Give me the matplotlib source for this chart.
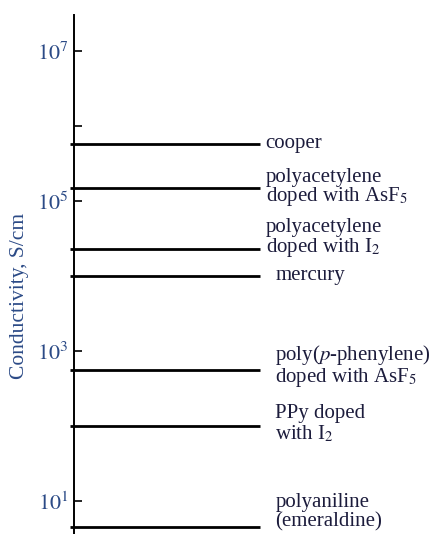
import math
import matplotlib.pyplot as plt
from matplotlib.ticker import FixedLocator, FuncFormatter

plt.rcParams['font.family'] = 'Liberation Serif'
plt.rcParams['mathtext.fontset'] = 'stix'

# conductivities in S/cm
materials = ['cooper',
             'polyacetylene\ndoped with AsF$_5$',
             'polyacetylene\ndoped with I$_2$',
             'mercury',
             'poly($p$-phenylene)\ndoped with AsF$_5$',
             'PPy doped\nwith I$_2$',
             'polyaniline\n(emeraldine)']
conductivity = [5.8e5, 1.5e5, 2.3e4, 1.0e4, 5.5e2, 1.0e2, 4.5e0]
tick_values = [1e1, 1e3, 1e5, 1e7]
minor_ticks = [1e6]

# label placement (points) and line spacing
label_dx = [4, 4, 4, 11, 11, 11, 11]
label_dy = [0, 0, 7.2, 0, 3.2, 1.2, 10.4]
label_ls = [1.0, 0.85, 0.95, 1.0, 0.95, 1.05, 1.0]

text_color = '#1c1c3c'
axis_color = '#2b4a86'

fig = plt.figure(figsize=(4.33, 5.34), dpi=100)
ax = fig.add_axes([0.171, 0.0, 0.829, 0.972])
ax.set_yscale('log')
ax.set_ylim(10**0.56, 10**7.48)
ax.set_xlim(0, 1)

for name, val, dx, dy, ls in zip(materials, conductivity, label_dx,
                                 label_dy, label_ls):
    ax.plot([-0.012, 0.518], [val, val], color='black', lw=2, clip_on=False,
            solid_capstyle='butt')
    ax.annotate(name, xy=(0.518, val), xytext=(dx, dy),
                textcoords='offset points', ha='left', va='center',
                fontsize=15, color=text_color, linespacing=ls)

for s in ['top', 'right', 'bottom']:
    ax.spines[s].set_visible(False)
ax.spines['left'].set_linewidth(1.4)
ax.set_xticks([])

ax.yaxis.set_major_locator(FixedLocator(tick_values))
ax.yaxis.set_minor_locator(FixedLocator(minor_ticks))
ax.yaxis.set_major_formatter(FuncFormatter(
    lambda v, p: r'$10^{%d}$' % round(math.log10(v))))
ax.yaxis.set_minor_formatter(FuncFormatter(lambda v, p: ''))
ax.tick_params(axis='y', which='both', direction='in', length=6, width=1.2,
               labelsize=16, labelcolor=axis_color, pad=4)
ax.set_ylabel('Conductivity, S/cm', fontsize=15.5, color=axis_color)
ax.yaxis.set_label_coords(-0.125, 0.459)

fig.savefig('out.png', dpi=100)
